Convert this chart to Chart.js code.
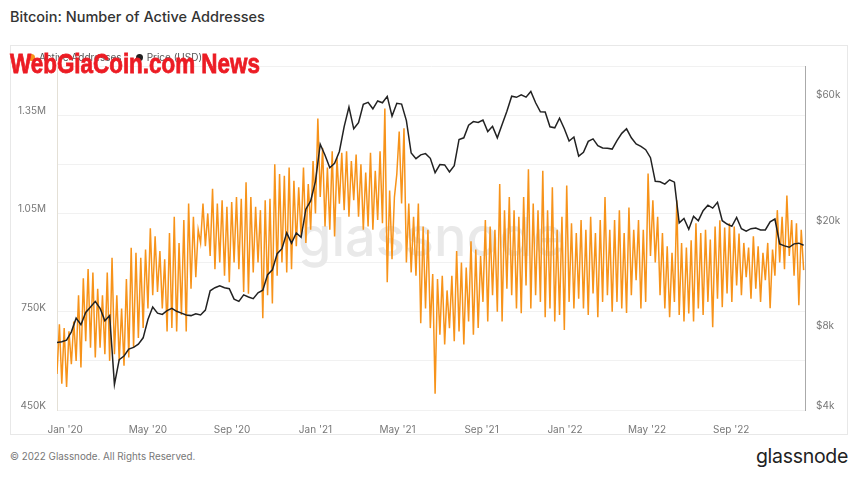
<!DOCTYPE html>
<html>
<head>
<meta charset="utf-8">
<script src="https://cdn.jsdelivr.net/npm/chart.js@4.4.0/dist/chart.umd.min.js"></script>
<style>
  body { margin: 0; background: #fff; font-family: Inter, "Noto Sans", sans-serif; }
  #title { position: absolute; left: 10px; top: 8px; font-size: 14.5px; font-weight: 500; color: #333; }
  #card { position: absolute; left: 10px; top: 45px; width: 838px; height: 390px; border: 1px solid #e8e8e8; box-sizing: border-box; }
  #chart { position: absolute; left: 10px; top: 45px; }
  #legend { position: absolute; left: 28px; top: 51px; font-size: 10px; color: #555; }
  #legend span { margin-right: 14px; }
  #legend i { display: inline-block; width: 7px; height: 7px; border-radius: 50%; margin-right: 4px; }
  #stamp { position: absolute; left: 10px; top: 49px; font-family: "Liberation Sans", "DejaVu Sans", sans-serif; font-weight: 900; font-size: 27px; color: #ec1c24; white-space: nowrap; transform: scaleX(0.83); transform-origin: left top; -webkit-text-stroke: 0.8px #ec1c24; }
  #copy { position: absolute; left: 10px; top: 451px; font-size: 9.8px; color: #777; }
  #logo { position: absolute; right: 12px; top: 444px; font-size: 19.5px; color: #222; letter-spacing: -0.3px; }
</style>
</head>
<body>
<div id="title">Bitcoin: Number of Active Addresses</div>
<div id="card"></div>
<canvas id="chart" width="838" height="390"></canvas>
<div id="legend"><span><i style="background:#f7931a"></i>Active Addresses</span><span><i style="background:#222"></i>Price (USD)</span></div>
<div id="stamp">WebGiaCoin.com News</div>
<div id="copy">© 2022 Glassnode. All Rights Reserved.</div>
<div id="logo">glassnode</div>
<script>
// days counted from 1 Jan 2020, first week starts 20 Dec 2019
const weekStart = -12;

// active addresses, thousands: weekday peak and weekend trough of each week
const activeHigh = [
  712, 700, 690, 720, 800, 852, 880, 870, 820, 800,
  870, 915, 800, 760, 850, 945, 930, 915, 940, 1005,
  980, 935, 910, 990, 1040, 960, 1030, 1080, 1040, 1000,
  1080, 1050, 1125, 1080, 1090, 1070, 1085, 1100, 1095, 1145,
  1100, 1070, 1060, 1090, 1095, 1200, 1170, 1165, 1190, 1150,
  1130, 1190, 1140, 1210, 1340, 1250, 1190, 1240, 1220, 1235,
  1240, 1210, 1230, 1200, 1175, 1235, 1180, 1240, 1370, 1120,
  1100, 1300, 1310, 1080, 1040, 1080, 1010, 1000, 865, 850,
  860, 815, 860, 935, 900, 885, 965, 940, 920, 1030,
  1010, 1000, 1140, 1060, 1100, 1060, 1040, 1100, 1185, 1080,
  1060, 1180, 1060, 1130, 1000, 1040, 1135, 1020, 990, 1030,
  1000, 1040, 990, 1030, 1100, 1000, 1030, 1060, 990, 1068,
  1000, 1030, 1000, 1172, 1090, 1040, 990, 950, 930, 1090,
  960, 946, 968, 1020, 990, 1000, 970, 1010, 1029, 1007,
  1020, 1010, 989, 960, 946, 980, 950, 930, 960, 940,
  1060, 1040, 1105, 1030, 1020, 1000
];
const activeLow = [
  560, 530, 520, 590, 600, 580, 660, 640, 610, 640,
  620, 600, 620, 600, 585, 610, 640, 670, 700, 760,
  800, 810, 760, 690, 700, 690, 740, 690, 820, 855,
  960, 950, 920, 880, 900, 860, 840, 900, 880, 810,
  805, 870, 900, 730, 800, 775, 860, 900, 870, 880,
  950, 980, 960, 1000, 1050, 1100, 1010, 1000, 980, 1080,
  1060, 1040, 1090, 1040, 1000, 1010, 1000, 1030, 1020, 840,
  910, 1170, 1080, 900, 870, 860, 715, 760, 700, 500,
  680, 650, 700, 660, 690, 650, 720, 680, 700, 780,
  720, 800, 750, 720, 820, 800, 760, 745, 830, 760,
  800, 780, 733, 760, 720, 740, 694, 780, 760, 790,
  760, 740, 806, 733, 780, 800, 750, 780, 760, 746,
  800, 846, 760, 780, 920, 900, 800, 760, 733, 780,
  740, 720, 745, 720, 760, 740, 780, 703, 790, 764,
  806, 780, 830, 800, 855, 790, 820, 780, 846, 761,
  860, 900, 880, 920, 860, 770, 877
];

// BTC price (USD), one value per week
const priceWeekly = [
  7200, 7250, 7350, 7900, 8900, 8400, 9350, 9800, 10300, 9700,
  8700, 9100, 5000, 6200, 6400, 6800, 6900, 7100, 7500, 8800,
  9800, 9300, 9200, 9500, 9700, 9450, 9300, 9150, 9100, 9250,
  9150, 9550, 11300, 11600, 11800, 11600, 11500, 10500, 10300, 10900,
  10700, 10550, 11100, 11350, 13000, 13550, 15600, 16300, 18700, 17100,
  18700, 18000, 23000, 24700, 29300, 40500, 36800, 33000, 34300, 38000,
  47200, 55900, 46300, 48800, 57300, 58300, 55100, 59000, 58100, 61400,
  51700, 57800, 57400, 49700, 37500, 35700, 36900, 37300, 35800, 31600,
  33900, 33800, 31800, 33600, 42200, 42800, 47800, 49300, 48900, 50000,
  45200, 47300, 42800, 48100, 53900, 61500, 60900, 62200, 61000, 64100,
  58100, 53700, 53600, 47100, 46700, 50800, 46300, 41600, 43100, 36500,
  37700, 41500, 42400, 40000, 39200, 39100, 38800, 41800, 44500, 46300,
  42800, 40600, 39700, 38600, 36000, 29300, 29200, 28600, 29700, 29100,
  20400, 21200, 19300, 21600, 20800, 22700, 23800, 23200, 24400, 20800,
  20200, 19800, 21400, 19400, 19000, 19400, 19500, 19200, 19200, 20600,
  21100, 17000, 16700, 16500, 17000, 17100, 16800
];

// x axis labels and their day offsets
const monthTicks = [0, 121, 244, 366, 486, 609, 731, 851, 974];
const monthLabels = ["Jan '20", "May '20", "Sep '20", "Jan '21", "May '21", "Sep '21", "Jan '22", "May '22", "Sep '22"];

const leftTicks = [450000, 600000, 750000, 900000, 1050000, 1200000, 1350000, 1500000];
const leftLabels = { 450000: '450K', 750000: '750K', 1050000: '1.05M', 1350000: '1.35M' };
const rightTicks = [4000, 8000, 20000, 40000, 60000];
const rightLabels = { 4000: '$4k', 8000: '$8k', 20000: '$20k', 60000: '$60k' };

const activePoints = [];
activeLow.forEach((lo, k) => {
  activePoints.push({ x: weekStart + 7 * k, y: lo * 1000 });
  if (k < activeHigh.length) activePoints.push({ x: weekStart + 7 * k + 3.5, y: activeHigh[k] * 1000 });
});
const pricePoints = priceWeekly.map((p, k) => ({ x: weekStart + 7 * k, y: p }));

const watermark = {
  id: 'watermark',
  beforeDatasetsDraw(chart) {
    const ctx = chart.ctx;
    ctx.save();
    ctx.font = '500 54px Inter, sans-serif';
    ctx.fillStyle = '#e9e9e9';
    ctx.textBaseline = 'alphabetic';
    ctx.fillText('glassnode', 288, 211);
    ctx.restore();
  }
};

const tickFont = { family: 'Inter, sans-serif', size: 10 };

new Chart(document.getElementById('chart').getContext('2d'), {
  type: 'line',
  data: {
    datasets: [
      {
        label: 'Price (USD)',
        data: pricePoints,
        yAxisID: 'y1',
        borderColor: '#222',
        borderWidth: 1.5,
        pointRadius: 0,
        tension: 0
      },
      {
        label: 'Active Addresses',
        data: activePoints,
        yAxisID: 'y',
        borderColor: '#f7931a',
        borderWidth: 1.5,
        pointRadius: 0,
        tension: 0
      }
    ]
  },
  options: {
    responsive: false,
    animation: false,
    layout: { padding: { top: 21 } },
    plugins: { legend: { display: false }, tooltip: { enabled: false } },
    scales: {
      x: {
        type: 'linear',
        min: -12,
        max: 1082,
        afterBuildTicks: s => { s.ticks = monthTicks.map(v => ({ value: v })); },
        afterFit: s => { s.height = 25; },
        ticks: { callback: v => monthLabels[monthTicks.indexOf(v)], color: '#777', font: tickFont, padding: 6, maxRotation: 0, autoSkip: false },
        grid: { display: false },
        border: { display: false }
      },
      y: {
        position: 'left',
        min: 450000,
        max: 1500000,
        afterBuildTicks: s => { s.ticks = leftTicks.map(v => ({ value: v })); },
        afterFit: s => { s.width = 47; },
        ticks: { callback: v => leftLabels[v] || '', color: '#777', font: tickFont, padding: 11, labelOffset: -4, autoSkip: false },
        grid: { color: '#f1f1f1', drawTicks: false },
        border: { display: true, color: '#e4e0d6' }
      },
      y1: {
        type: 'logarithmic',
        position: 'right',
        min: 4000,
        max: 80000,
        afterBuildTicks: s => { s.ticks = rightTicks.map(v => ({ value: v })); },
        afterFit: s => { s.width = 43; },
        ticks: { callback: v => rightLabels[v] || '', color: '#777', font: tickFont, padding: 11, labelOffset: -4, autoSkip: false },
        grid: { drawOnChartArea: false, drawTicks: false },
        border: { display: true, color: '#aaa' }
      }
    }
  },
  plugins: [watermark]
});
</script>
</body>
</html>
